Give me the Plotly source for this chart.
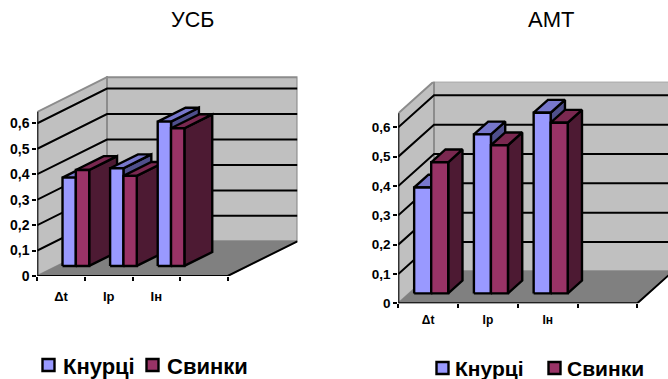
import plotly.graph_objects as go

W, H = 668, 379
FONT = "Liberation Sans"

categories = ["Δt", "Iр", "Iн"]
series_names = ["Кнурці", "Свинки"]
y_ticks = [0, 0.1, 0.2, 0.3, 0.4, 0.5, 0.6]
y_tick_text = ["0", "0,1", "0,2", "0,3", "0,4", "0,5", "0,6"]

usb_knurtsi = [0.347, 0.384, 0.567]
usb_svynky = [0.377, 0.354, 0.541]
amt_knurtsi = [0.361, 0.542, 0.616]
amt_svynky = [0.447, 0.505, 0.582]

FILLS = [
    {"front": "#9999FF", "top": "#7777CC", "side": "#4F4F8C"},
    {"front": "#993366", "top": "#7A2850", "side": "#4D1A33"},
]
WALL, FLOOR, EDGE = "#C0C0C0", "#808080", "#8C8C8C"
BAR_LINE = 2.4


def px_x(p):
    return p / W


def px_y(p):
    return 1 - p / H


fig = go.Figure()


def poly(xs, ys, fill, line, width, ax, ay, name=None):
    fig.add_trace(go.Scatter(
        x=xs, y=ys, mode="lines", fill="toself" if fill else "none", fillcolor=fill,
        line=dict(color=line, width=width), cliponaxis=False, xaxis=ax, yaxis=ay,
        showlegend=False, hoverinfo="skip", name=name))


def panel(groups, ax, ay, suffix, left, right, top, bottom, x_px, y_px, g):
    """Oblique 3-D column chart: depth is a shear in data units."""
    x0, x1 = -0.5, 3.5
    dx = g["depth_px"][0] / x_px
    dy = g["depth_px"][1] / y_px
    wall_top = g["wall_top"]

    # Side wall, back wall and floor
    poly([x0, x0, x0 + dx, x0 + dx, x0], [0, wall_top, wall_top + dy, dy, 0], WALL, EDGE, 2, ax, ay)
    poly([x0 + dx, x0 + dx, x1 + dx, x1 + dx, x0 + dx],
         [dy, wall_top + dy, wall_top + dy, dy, dy], WALL, EDGE, 2, ax, ay)
    poly([x0, x0 + dx, x1 + dx, x1, x0], [0, dy, dy, 0, 0], FLOOR, FLOOR, 1, ax, ay)

    # Gridlines folded across both walls
    gx, gy = [], []
    for v in y_ticks[1:]:
        gx += [x0, x0 + dx, x1 + dx, None]
        gy += [v, v + dy, v + dy, None]
    poly(gx, gy, None, "#000000", 2, ax, ay)

    # Front edges of the box
    poly([x0, x0], [0, wall_top], None, "#000000", 2, ax, ay)
    poly([x0, x1, x1 + dx], [0, 0, dy], None, "#000000", 2, ax, ay)

    # Columns, painted left to right
    f = g["front"]
    d = g["bar_depth"]
    ox0, oy0 = f * dx, f * dy
    ox, oy = d * dx, d * dy
    for i in range(len(categories)):
        for s, vals in enumerate(groups):
            a = i + ox0 + g["start"] + s * g["bar_w"]
            b = a + g["bar_w"]
            base = oy0
            h = base + vals[i]
            c = FILLS[s]
            nm = series_names[s]
            poly([b, b + ox, b + ox, b, b], [base, base + oy, h + oy, h, base], c["side"], "#000000", BAR_LINE, ax, ay, nm)
            poly([a, a + ox, b + ox, b, a], [h, h + oy, h + oy, h, h], c["top"], "#000000", BAR_LINE, ax, ay, nm)
            poly([a, b, b, a, a], [base, base, h, h, base], c["front"], "#000000", BAR_LINE, ax, ay, nm)

    layout = {
        "xaxis" + suffix: dict(
            domain=[px_x(left), px_x(right)], range=[x0, x0 + (right - left) / x_px], automargin=False,
            tickvals=[0, 1, 2], ticktext=categories, ticks="", showgrid=False, zeroline=False,
            showline=False, ticklabelstandoff=g["x_standoff"], anchor="y" + suffix,
            tickfont=dict(family=FONT, size=g["x_font"], color="#000000", weight="bold"),
            minor=dict(tickvals=[-0.5, 0.5, 1.5, 2.5, 3.5], ticks="outside", ticklen=4,
                       tickwidth=2, tickcolor="#000000", showgrid=False)),
        "yaxis" + suffix: dict(
            domain=[px_y(bottom), px_y(top)], range=[0, (bottom - top) / y_px], automargin=False,
            tickvals=y_ticks, ticktext=y_tick_text, ticks="outside", ticklen=4, tickwidth=2,
            tickcolor="#000000", showgrid=False, zeroline=False, showline=False, anchor="x" + suffix,
            tickfont=dict(family=FONT, size=g["y_font"], color="#000000", weight="bold")),
    }
    fig.update_layout(**layout)


panel([usb_knurtsi, usb_svynky], "x", "y", "", 37.3, 297.5, 76, 276, 47.6, 254.5, dict(
    depth_px=(69.7, 34.7), wall_top=0.645, front=0.29, bar_depth=0.40,
    start=-0.395, bar_w=0.28, x_standoff=11, x_font=13, y_font=14))
panel([amt_knurtsi, amt_svynky], "x2", "y2", "2", 398.3, 668, 81.7, 303.3, 59.75, 293.3, dict(
    depth_px=(35.7, 32), wall_top=0.648, front=0.31, bar_depth=0.40,
    start=-0.42, bar_w=0.285, x_standoff=8, x_font=12, y_font=13.5))

annotations = []
shapes = []


def text(x, y, s, size, bold=True):
    annotations.append(dict(
        x=px_x(x), y=px_y(y), xref="paper", yref="paper", text=s, showarrow=False,
        xanchor="left", yanchor="middle",
        font=dict(family=FONT, size=size, color="#000000", weight="bold" if bold else "normal")))


def swatch(cx, cy, size, color):
    shapes.append(dict(
        type="rect", xref="paper", yref="paper", x0=px_x(cx - size / 2), x1=px_x(cx + size / 2),
        y0=px_y(cy + size / 2), y1=px_y(cy - size / 2), fillcolor=color,
        line=dict(color="#000000", width=2.4)))


# Titles
annotations.append(dict(x=px_x(192), y=px_y(20), xref="paper", yref="paper", text="УСБ", showarrow=False,
                        xanchor="center", yanchor="middle",
                        font=dict(family=FONT, size=21.5, color="#000000")))
annotations.append(dict(x=px_x(551), y=px_y(20), xref="paper", yref="paper", text="АМТ", showarrow=False,
                        xanchor="center", yanchor="middle",
                        font=dict(family=FONT, size=22, color="#000000")))

# Series keys below each panel
swatch(48.5, 365, 12, FILLS[0]["front"])
text(61, 366, series_names[0], 22)
swatch(152.5, 365, 12, FILLS[1]["front"])
text(165, 366, series_names[1], 22)
swatch(442.5, 368, 12, FILLS[0]["front"])
text(453, 368, series_names[0], 21)
swatch(554.5, 368, 12, FILLS[1]["front"])
text(565, 368, series_names[1], 21)

fig.update_layout(
    width=W, height=H, margin=dict(l=0, r=0, t=0, b=0), paper_bgcolor="#FFFFFF", plot_bgcolor="rgba(0,0,0,0)",
    showlegend=False, annotations=annotations, shapes=shapes)

fig.write_html("out.html", config={"displayModeBar": False})
